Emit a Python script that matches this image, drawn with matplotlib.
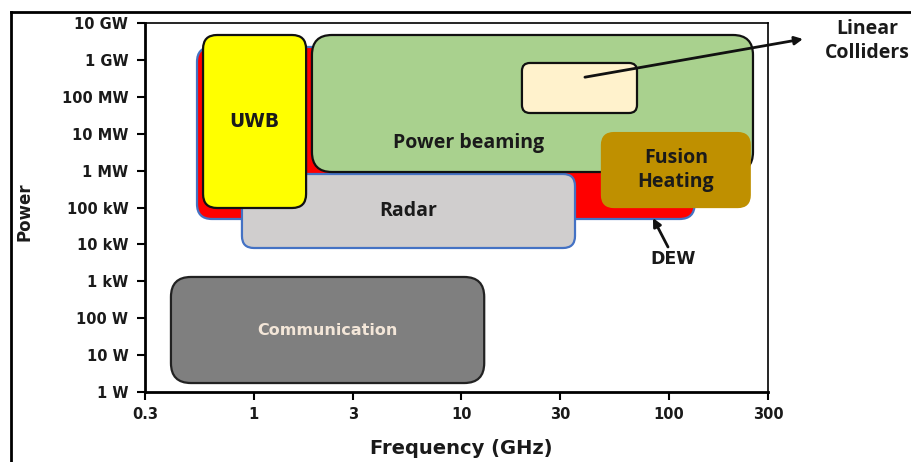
import numpy as np
import matplotlib.pyplot as plt
from matplotlib.patches import FancyBboxPatch
from matplotlib.lines import Line2D

# application areas: frequency band (GHz) and power range (W)
areas = ["DEW", "Radar", "UWB", "Power beaming", "Linear Colliders", "Fusion\nHeating", "Communication"]
f_lo = [0.534, 0.879, 0.571, 1.91, 19.6, 47.6, 0.40]
f_hi = [133, 35.3, 1.79, 254, 70.2, 245, 12.9]
p_lo = [4.88e4, 7.99e3, 9.7e4, 9.16e5, 3.64e7, 1.03e5, 1.75]
p_hi = [2.24e9, 8.09e5, 4.73e9, 4.73e9, 8.25e8, 1.04e7, 1.31e3]

xticks = [0.3, 1, 3, 10, 30, 100, 300]
xlabels = ["0.3", "1", "3", "10", "30", "100", "300"]
yticks = [1, 10, 100, 1e3, 1e4, 1e5, 1e6, 1e7, 1e8, 1e9, 1e10]
ylabels = ["1 W", "10 W", "100 W", "1 kW", "10 kW", "100 kW",
           "1 MW", "10 MW", "100 MW", "1 GW", "10 GW"]

# drawing styles, same order as areas
faces = ["#ff0000", "#d0cece", "#ffff00", "#a9d18e", "#fff2cc", "#bf9000", "#7f7f7f"]
edges = ["#4472c4", "#4472c4", "#111111", "#111111", "#111111", "#bf9000", "#222222"]
radii = [15, 12, 14, 20, 8, 12, 20]   # corner radius in pixels

W, H = 912, 462
fig = plt.figure(figsize=(W / 100, H / 100), dpi=100)
ax_l, ax_r, ax_t, ax_b = 145, 768, 23, 392
ax = fig.add_axes([ax_l / W, 1 - ax_b / H, (ax_r - ax_l) / W, (ax_b - ax_t) / H])
axw, axh = ax_r - ax_l, ax_b - ax_t

ax.set_xscale('log')
ax.set_yscale('log')
ax.set_xlim(0.3, 300)
ax.set_ylim(1, 1e10)
ax.minorticks_off()
ax.set_xticks(xticks)
ax.set_xticklabels(xlabels)
ax.set_yticks(yticks)
ax.set_yticklabels(ylabels)
for lab in ax.get_xticklabels() + ax.get_yticklabels():
    lab.set_fontweight('bold')
    lab.set_fontsize(10.5)
    lab.set_color('#1a1a1a')
ax.tick_params(axis='both', direction='out', length=6, width=1.5)
ax.tick_params(axis='x', pad=5)
ax.tick_params(axis='y', pad=6)
ax.spines['left'].set_linewidth(2)
ax.spines['bottom'].set_linewidth(2)
ax.spines['top'].set_linewidth(1.2)
ax.spines['right'].set_linewidth(1.2)

to_axes = ax.transData + ax.transAxes.inverted()
centers = []
for i in range(len(areas)):
    (x0, y0), (x1, y1) = to_axes.transform([(f_lo[i], p_lo[i]), (f_hi[i], p_hi[i])])
    box = FancyBboxPatch((x0, y0), x1 - x0, y1 - y0,
                         boxstyle=f"round,pad=0,rounding_size={radii[i] / axw}",
                         mutation_aspect=axw / axh, transform=ax.transAxes,
                         facecolor=faces[i], edgecolor=edges[i], lw=1.6, zorder=2 + i)
    ax.add_patch(box)
    centers.append(((x0 + x1) / 2, (y0 + y1) / 2))

calibri = dict(family='Open Sans', fontweight='bold', color='#1a1a1a')
arial = dict(family='DejaVu Sans', fontweight='bold', color='#1a1a1a')

cx, cy = centers[2]
ax.text(cx, cy, "UWB", transform=ax.transAxes, ha='center', va='center', fontsize=13.5, zorder=20, **arial)
cx, cy = centers[1]
ax.text(cx, cy, "Radar", transform=ax.transAxes, ha='center', va='center', fontsize=14, zorder=20, **calibri)
ax.text(0.519, 0.675, "Power beaming", transform=ax.transAxes, ha='center', va='center',
        fontsize=14, zorder=20, **calibri)
cx, cy = centers[5]
ax.text(cx, cy, "Fusion\nHeating", transform=ax.transAxes, ha='center', va='center',
        fontsize=14, linespacing=1.25, zorder=20, **calibri)
cx, cy = centers[6]
ax.text(cx, cy, "Communication", transform=ax.transAxes, ha='center', va='center',
        fontsize=11.5, family='DejaVu Sans', fontweight='bold', color='#f3e6d8', zorder=20)

# callouts
ax.annotate("", xy=(803 / W, 1 - 39 / H), xycoords='figure fraction',
            xytext=(39.4, 3.4e8), textcoords='data', annotation_clip=False,
            arrowprops=dict(arrowstyle='-|>', color='#111111', lw=2, mutation_scale=12,
                            shrinkA=0, shrinkB=0), zorder=30)
fig.text(867 / W, 1 - 41 / H, "Linear\nColliders", ha='center', va='center',
         fontsize=14, linespacing=1.25, **calibri)

ax.annotate("", xy=(83.8, 5.19e4), xycoords='data',
            xytext=(668 / W, 1 - 247 / H), textcoords='figure fraction', annotation_clip=False,
            arrowprops=dict(arrowstyle='-|>', color='#111111', lw=2, mutation_scale=12,
                            shrinkA=0, shrinkB=0), zorder=30)
fig.text(673 / W, 1 - 259 / H, "DEW", ha='center', va='center', fontsize=12.5, **arial)

fig.text(25 / W, 1 - 212 / H, "Power", rotation=90, ha='center', va='center', fontsize=12, **arial)
fig.text(461 / W, 1 - 448 / H, "Frequency (GHz)", ha='center', va='center', fontsize=14, **arial)

# outer frame of the picture
fig.add_artist(Line2D([11 / W, 1], [1 - 12 / H, 1 - 12 / H], transform=fig.transFigure, color='black', lw=2))
fig.add_artist(Line2D([11 / W, 11 / W], [0, 1 - 12 / H], transform=fig.transFigure, color='black', lw=2))

fig.savefig("out.png", dpi=100)
